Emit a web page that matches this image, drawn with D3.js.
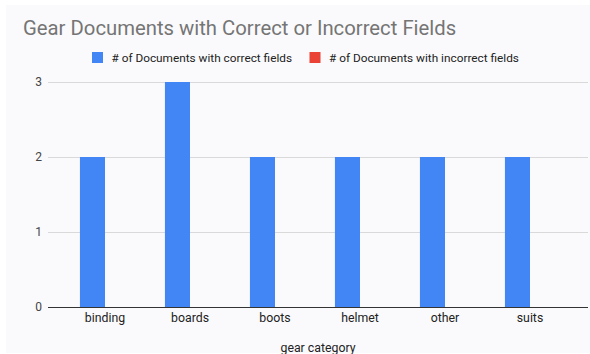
<!DOCTYPE html>
<html><head><meta charset="utf-8">
<script src="https://cdn.jsdelivr.net/npm/d3@7"></script>
<style>html,body{margin:0;padding:0;background:#fff;}svg{display:block;font-family:Roboto,Arial,sans-serif;}</style>
</head><body>
<script>
const categories = ["binding","boards","boots","helmet","other","suits"];
const seriesNames = ["# of Documents with correct fields","# of Documents with incorrect fields"];
const correctValues = [2,3,2,2,2,2];
const incorrectValues = [0,0,0,0,0,0];
const yTicks = [0,1,2,3];
const colors = ["#4285f4","#ea4335"];

const W=590,H=354;
const svg=d3.select("body").append("svg").attr("width",W).attr("height",H);
svg.append("rect").attr("x",6).attr("y",5).attr("width",W-6).attr("height",H-6).attr("fill","#fafafc");

const plotL=48, plotR=588, plotT=82, plotB=307;
const x=d3.scaleBand().domain(categories).range([62.5,572.5]).paddingInner(0.41).paddingOuter(0.205);
const xs=d3.scaleBand().domain([0,1]).range([0,x.bandwidth()]);
const y=d3.scaleLinear().domain([0,3]).range([plotB,plotT]);

// title
svg.append("text").attr("x",23).attr("y",35).attr("font-size",20.3).attr("fill","#757575").text("Gear Documents with Correct or Incorrect Fields");

// legend
const leg=[{x:92,tx:111.5},{x:309.5,tx:329}];
seriesNames.forEach((n,i)=>{
  svg.append("rect").attr("x",leg[i].x).attr("y",52).attr("width",11).attr("height",11).attr("fill",colors[i]);
  svg.append("text").attr("x",leg[i].tx).attr("y",61.5).attr("font-size",11.8).attr("fill","#222").text(n);
});

// grid
const yAxis=d3.axisLeft(y).tickValues(yTicks).tickSize(-(plotR-plotL)).tickFormat(d3.format("d"));
const g=svg.append("g").attr("transform",`translate(${plotL},0)`).call(yAxis);
g.select(".domain").remove();
g.selectAll(".tick line").attr("stroke","#d9d9d9").attr("stroke-width",1);
g.selectAll(".tick text").attr("x",-6).attr("font-size",12).attr("fill","#444").attr("font-family","Roboto,Arial,sans-serif");

// bars
const series=[correctValues,incorrectValues];
series.forEach((vals,si)=>{
  svg.append("g").selectAll("rect").data(categories).join("rect")
    .attr("x",(c)=>x(c)+xs(si))
    .attr("y",(c,i)=>y(vals[i]))
    .attr("width",xs.bandwidth())
    .attr("height",(c,i)=>plotB-y(vals[i]))
    .attr("fill",colors[si]);
});

// baseline
svg.append("line").attr("x1",plotL).attr("x2",plotR).attr("y1",plotB+0.5).attr("y2",plotB+0.5).attr("stroke","#333").attr("stroke-width",1);

// x axis labels
const xAxis=d3.axisBottom(x).tickSize(0);
const gx=svg.append("g").attr("transform",`translate(0,${plotB})`).call(xAxis);
gx.select(".domain").remove();
gx.selectAll(".tick text").attr("y",6).attr("dy","0.71em").attr("font-size",12.3).attr("fill","#222").attr("font-family","Roboto,Arial,sans-serif");

svg.append("text").attr("x",(plotL+plotR)/2).attr("y",352).attr("text-anchor","middle").attr("font-size",12.3).attr("fill","#222").text("gear category");
</script>
</body></html>
